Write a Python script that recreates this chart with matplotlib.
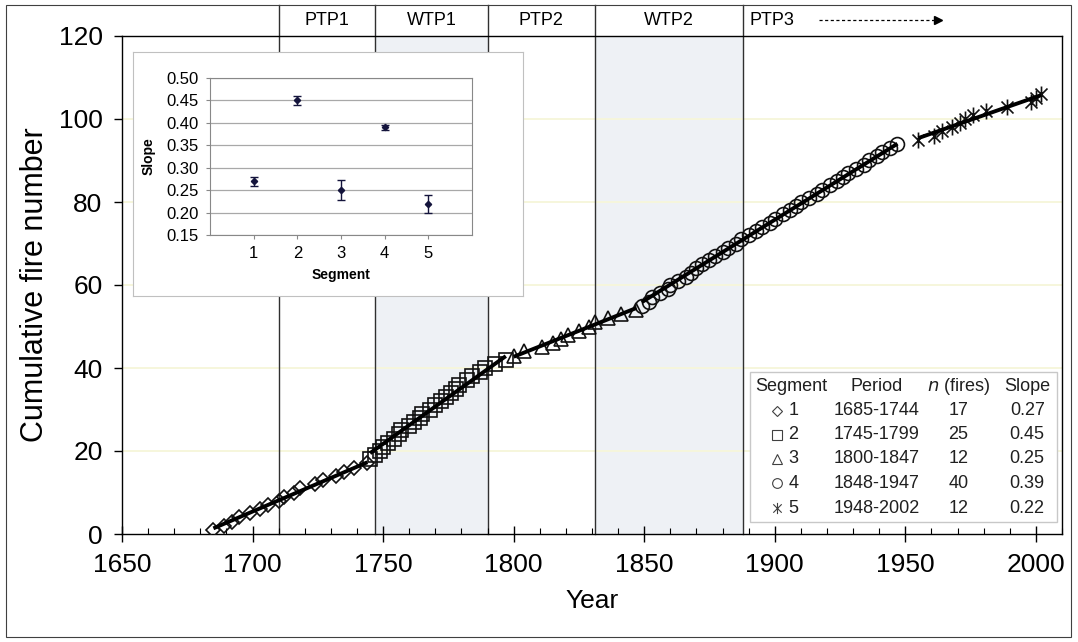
import matplotlib
matplotlib.use('Agg')
import matplotlib.pyplot as plt
from matplotlib.path import Path
from matplotlib.patches import Rectangle
from matplotlib.ticker import MultipleLocator, FormatStrFormatter
import numpy as np

plt.rcParams['font.family'] = ['Liberation Sans', 'DejaVu Sans']
plt.rcParams['mathtext.fontset'] = 'custom'
plt.rcParams['mathtext.it'] = 'Liberation Sans Narrow:italic'
plt.rcParams['mathtext.rm'] = 'Liberation Sans Narrow'
NARROW = ['Liberation Sans Narrow', 'Liberation Sans', 'DejaVu Sans']

# fire years, one list per segment
years_seg1 = [1685, 1689, 1692, 1695, 1699, 1703, 1706, 1710, 1712, 1716,
              1718, 1724, 1727, 1732, 1735, 1739, 1744]
years_seg2 = [1745, 1747, 1749, 1750, 1752, 1754, 1756, 1757, 1760, 1762,
              1764, 1765, 1768, 1770, 1772, 1774, 1776, 1778, 1779, 1782,
              1784, 1787, 1789, 1793, 1797]
years_seg3 = [1800, 1804, 1811, 1815, 1818, 1821, 1825, 1829, 1831, 1836,
              1841, 1847]
years_seg4 = [1849, 1852, 1853, 1856, 1859, 1860, 1863, 1866, 1868, 1870,
              1872, 1875, 1877, 1880, 1882, 1885, 1887, 1890, 1893, 1895,
              1898, 1900, 1903, 1906, 1908, 1910, 1913, 1916, 1918, 1921,
              1924, 1926, 1928, 1931, 1934, 1936, 1939, 1941, 1944, 1947]
years_seg5 = [1955, 1961, 1964, 1968, 1971, 1973, 1976, 1981, 1989, 1998,
              2000, 2002]

segment_ids = [1, 2, 3, 4, 5]
periods = ['1685-1744', '1745-1799', '1800-1847', '1848-1947', '1948-2002']
slopes = [0.27, 0.45, 0.25, 0.39, 0.22]
slope_err = [0.010, 0.010, 0.022, 0.006, 0.020]

phase_names = ['PTP1', 'WTP1', 'PTP2', 'WTP2', 'PTP3']
phase_starts = [1710, 1747, 1790, 1831, 1888]
warm_phases = [(1747, 1790), (1831, 1888)]

# marker per segment; segment 5 uses an asterisk (vertical bar + cross)
star = Path([(0, -1), (0, 1), (-0.75, -0.75), (0.75, 0.75), (-0.75, 0.75), (0.75, -0.75)],
            [Path.MOVETO, Path.LINETO] * 3)
markers = ['D', 's', '^', 'o', star]
marker_sizes = [7.5, 9.5, 10.5, 10, 11.5]

seg_years = [years_seg1, years_seg2, years_seg3, years_seg4, years_seg5]

fig = plt.figure(figsize=(10.78, 6.42), dpi=100)
fig.patches.append(Rectangle((6 / 1078, 5 / 642), 1065 / 1078, 632 / 642,
                             transform=fig.transFigure, fill=False,
                             edgecolor='#404040', linewidth=0.8))

ax = fig.add_axes([122 / 1078, 1 - 534 / 642, 940 / 1078, 498 / 642])
ax.set_xlim(1650, 2010)
ax.set_ylim(0, 120)

# warm phases shaded, phase boundaries run up into the label strip
for a, b in warm_phases:
    ax.axvspan(a, b, color='#eef1f5', zorder=0, linewidth=0)
for x in phase_starts:
    ax.axvline(x, ymin=0, ymax=1.062, clip_on=False, color='#303030',
               linewidth=1.0, zorder=1)
label_y = 1.032
xtr = ax.get_xaxis_transform()
for i, name in enumerate(phase_names):
    if i + 1 < len(phase_starts):
        ax.text((phase_starts[i] + phase_starts[i + 1]) / 2, label_y, name,
                transform=xtr, ha='center', va='center', fontsize=13,
                family=NARROW)
    else:
        ax.text(phase_starts[i] + 2.5, label_y, name, transform=xtr,
                ha='left', va='center', fontsize=13, family=NARROW)
        ax.plot([1917, 1961], [label_y, label_y], transform=xtr, clip_on=False,
                color='black', linewidth=0.9, linestyle=(0, (2.5, 2)))
        ax.plot([1962.5], [label_y], transform=xtr, clip_on=False, marker='>',
                markersize=6, color='black', linestyle='none')

for y in range(20, 120, 20):
    ax.axhline(y, color='#f6f6dc', linewidth=1.4, zorder=0.5)

# cumulative fire counts with a fitted line through each segment
start = 1
for yrs, m, ms, slope in zip(seg_years, markers, marker_sizes, slopes):
    yrs = np.array(yrs, dtype=float)
    counts = np.arange(start, start + len(yrs))
    start += len(yrs)
    ax.plot(yrs, counts, linestyle='none', marker=m, markersize=ms,
            markerfacecolor='none', markeredgecolor='#111111',
            markeredgewidth=1.2, zorder=3)
    xm, ym = yrs.mean(), counts.mean()
    xx = np.array([yrs[0], yrs[-1]])
    ax.plot(xx, ym + slope * (xx - xm), color='black', linewidth=2.8,
            zorder=4, solid_capstyle='butt')

ax.xaxis.set_major_locator(MultipleLocator(50))
ax.xaxis.set_minor_locator(MultipleLocator(10))
ax.yaxis.set_major_locator(MultipleLocator(20))
ax.set_xticks(np.arange(1650, 2001, 50))
ax.tick_params(axis='x', which='major', direction='inout', length=12,
               width=1, labelsize=19, pad=8)
ax.tick_params(axis='x', which='minor', direction='in', length=4.5, width=0.8)
ax.tick_params(axis='y', which='major', direction='out', length=6, width=1,
               labelsize=19, pad=8)
for lab in ax.get_xticklabels() + ax.get_yticklabels():
    lab.set_family(NARROW)
for s in ax.spines.values():
    s.set_linewidth(1.0)
ax.set_xlabel('Year', fontsize=19, labelpad=8, family=NARROW)
ax.set_ylabel('Cumulative fire number', fontsize=22, labelpad=6)

# summary table in the lower right
ax.add_patch(Rectangle((0.668, 0.024), 0.3267, 0.301, transform=ax.transAxes,
                       facecolor='white', edgecolor='#c8c8c8', linewidth=1.0,
                       zorder=5))
row_y = [0.297, 0.247, 0.199, 0.151, 0.102, 0.052]
col_mark, col_seg, col_per, col_n, col_slope = 0.697, 0.714, 0.803, 0.890, 0.963
tfs = 13
tkw = dict(transform=ax.transAxes, ha='center', va='center', fontsize=tfs,
           zorder=6, family=NARROW, color='#202020')
ax.text(0.7125, row_y[0], 'Segment', **tkw)
ax.text(col_per, row_y[0], 'Period', **tkw)
ax.text(col_n, row_y[0], r'$n$ (fires)', **tkw)
ax.text(col_slope, row_y[0], 'Slope', **tkw)
for i, sid in enumerate(segment_ids):
    y = row_y[i + 1]
    ax.plot([col_mark], [y], transform=ax.transAxes, marker=markers[i],
            markersize=marker_sizes[i] * 0.7, markerfacecolor='none',
            markeredgecolor='#404040', markeredgewidth=0.8, linestyle='none',
            clip_on=False, zorder=6)
    ax.text(col_seg, y, str(sid), **tkw)
    ax.text(col_per, y, periods[i], **tkw)
    ax.text(col_n, y, str(len(seg_years[i])), **tkw)
    ax.text(col_slope, y, '%.2f' % slopes[i], **tkw)

# inset: slope of each segment with its error
frame = fig.add_axes([133 / 1078, 1 - 296 / 642, 390 / 1078, 244 / 642])
frame.set_xticks([])
frame.set_yticks([])
for s in frame.spines.values():
    s.set_color('#c0c0c0')
frame.set_facecolor('white')

ins = fig.add_axes([210 / 1078, 1 - 235 / 642, 262 / 1078, 157 / 642])
ins.errorbar(segment_ids, slopes, yerr=slope_err, fmt='D', markersize=3.2,
             color='#14143c', ecolor='#14143c', elinewidth=1.0, capsize=3,
             capthick=1.0, zorder=3)
ins.set_xlim(0, 6)
ins.set_ylim(0.15, 0.50)
ins.set_xticks(segment_ids)
ins.set_yticks(np.arange(0.15, 0.501, 0.05))
ins.yaxis.set_major_formatter(FormatStrFormatter('%.2f'))
ins.yaxis.grid(True, color='#a8a8a8', linewidth=0.9)
ins.set_axisbelow(True)
for s in ins.spines.values():
    s.set_color('#888888')
ins.tick_params(labelsize=12, length=3, color='#888888', pad=5)
for lab in ins.get_xticklabels() + ins.get_yticklabels():
    lab.set_family(NARROW)
ins.set_xlabel('Segment', fontsize=10, fontweight='bold', labelpad=5)
ins.set_ylabel('Slope', fontsize=10, fontweight='bold', labelpad=8)

fig.savefig('out.png', dpi=100)
